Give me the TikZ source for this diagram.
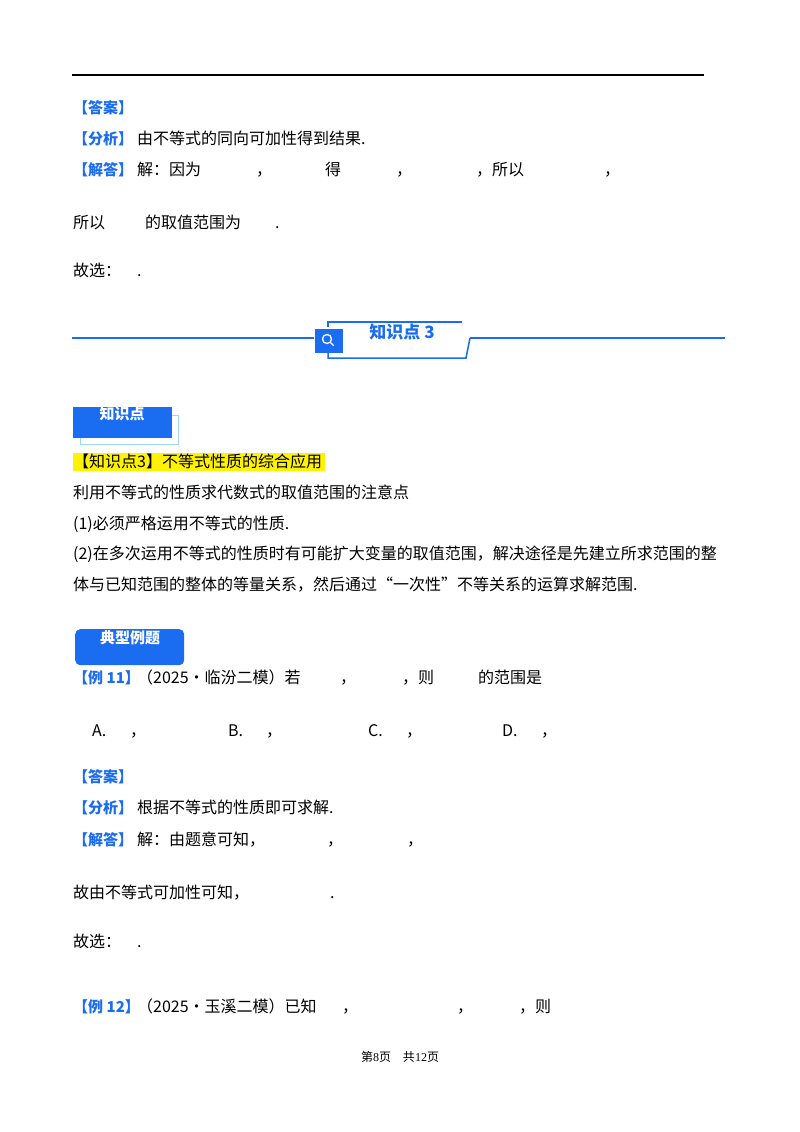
\documentclass[tikz,border=0pt]{standalone}
\usepackage{fontspec}
\setmainfont{Noto Sans CJK SC}
\newfontfamily\ser{Liberation Serif}
\definecolor{bl}{HTML}{1A6CF0}
\definecolor{lb}{HTML}{9ED8F5}
\begin{document}
\begin{tikzpicture}[x=1pt,y=-1pt,
  t/.style={anchor=base west,inner sep=0pt,font=\fontsize{16}{18}\selectfont},
  tb/.style={t,text=bl,font=\fontsize{15}{17}\selectfont\bfseries}]
\useasboundingbox (0,0) rectangle (800,1132);
\draw[line width=1.6pt] (72,75) -- (704,75);
\node[tb] (a1) at (73,113) {【答案】};
\node[tb] (f1) at (73,144) {【分析】};
\node[t] at (137,144) {由不等式的同向可加性得到结果.};
\node[tb] (j1) at (73,175) {【解答】};
\node[t] at (137,175) {解：因为};
\node[t] at (256,175) {，};
\node[t] at (325,175) {得};
\node[t] at (396,175) {，};
\node[t] at (476,175) {，所以};
\node[t] at (604,175) {，};
\node[t] at (73,228) {所以};
\node[t] at (145,228) {的取值范围为};
\node[t] at (275,228) {.};
\node[t] at (73,276) {故选：};
\node[t] at (137,276) {.};
% banner
\draw[bl,line width=1.5pt] (72,338) -- (314,338);
\draw[bl,line width=1.5pt] (470,338) -- (725,338);
\draw[bl,line width=1.5pt] (328,327) -- (328,322) -- (462,322);
\draw[bl,line width=1.5pt] (328,352) -- (328,358) -- (466,358) -- (470,338);
\node[fill=bl,minimum width=28pt,minimum height=24pt,inner sep=0pt] (sq) at (329,341) {};
\draw[white,line width=1.3pt] (327,339) circle (4.5pt) ++(3.2,3.2) -- ++(3.5,3.5);
\node[text=bl,font=\fontsize{17}{19}\selectfont\bfseries] (kt) at (402,332) {知识点 3};
% 知识点 box
\draw[lb,line width=1pt] (80,415) rectangle (178,444);
\node[fill=bl,minimum width=99pt,minimum height=31pt,inner sep=0pt,anchor=north west] (kb) at (73,407) {};
\node[text=white,font=\fontsize{15}{17}\selectfont\bfseries] at (122,414) {知识点};
\node[fill=yellow,anchor=north west,minimum width=252pt,minimum height=18pt,inner sep=0pt] at (73,453) {};
\node[t] at (73,467) {【知识点3】不等式性质的综合应用};
\node[t] at (73,498) {利用不等式的性质求代数式的取值范围的注意点};
\node[t] at (73,529) {(1)必须严格运用不等式的性质.};
\node[t] at (73,559) {(2)在多次运用不等式的性质时有可能扩大变量的取值范围，解决途径是先建立所求范围的整};
\node[t] at (73,590) {体与已知范围的整体的等量关系，然后通过“一次性”不等关系的运算求解范围.};
% 典型例题
\node[fill=bl,rounded corners=5pt,minimum width=109pt,minimum height=36pt,inner sep=0pt,anchor=north west] (db) at (75,629) {};
\node[text=white,font=\fontsize{15}{17}\selectfont\bfseries] at (130,638) {典型例题};
\node[tb] at (73,683) {【例 11】};
\node[t] at (137,683) {（2025•临汾二模）若};
\node[t] at (340,683) {，};
\node[t] at (402,683) {，则};
\node[t] at (478,683) {的范围是};
\node[t] at (92,736) {A.};
\node[t] at (130,736) {，};
\node[t] at (228,736) {B.};
\node[t] at (266,736) {，};
\node[t] at (368,736) {C.};
\node[t] at (406,736) {，};
\node[t] at (502,736) {D.};
\node[t] at (541,736) {，};
\node[tb] at (73,782) {【答案】};
\node[tb] at (73,813) {【分析】};
\node[t] at (137,813) {根据不等式的性质即可求解.};
\node[tb] at (73,845) {【解答】};
\node[t] at (137,845) {解：由题意可知，};
\node[t] at (327,845) {，};
\node[t] at (407,845) {，};
\node[t] at (73,898) {故由不等式可加性可知，};
\node[t] at (330,898) {.};
\node[t] at (73,947) {故选：};
\node[t] at (137,947) {.};
\node[tb] at (73,1012) {【例 12】};
\node[t] at (137,1012) {（2025•玉溪二模）已知};
\node[t] at (342,1012) {，};
\node[t] at (457,1012) {，};
\node[t] at (519,1012) {，则};
\node[font=\fontsize{12}{14}\selectfont] at (400,1057) {第{\ser 8}页\quad 共{\ser 12}页};
\end{tikzpicture}
\end{document}
